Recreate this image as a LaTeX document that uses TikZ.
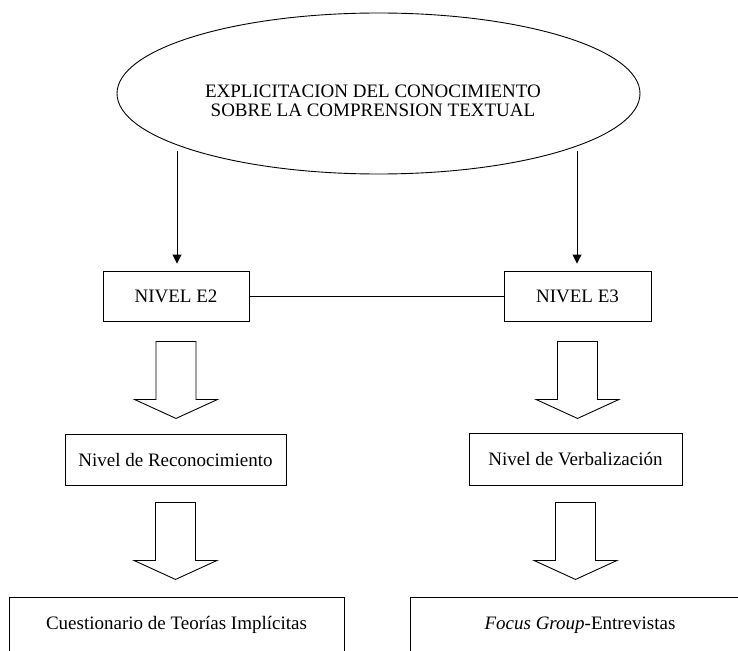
\documentclass[tikz,border=0pt]{standalone}
\usepackage{fontspec}
\setmainfont{Liberation Serif}
\usetikzlibrary{arrows.meta}

\tikzset{
  box/.style={draw, line width=0.9pt, inner sep=0pt, font=\fontsize{19}{17}\selectfont},
  thinarrow/.style={line width=0.9pt, -{Triangle[length=9pt,width=9pt]}, shorten >=7pt},
  bigdown/.pic={\draw[line width=0.9pt] (-20,0) -- (-20,58) -- (-41.5,58) -- (0,77)
     -- (41.5,58) -- (20,58) -- (20,0) -- cycle;}
}

\begin{document}
\begin{tikzpicture}[x=1pt,y=-1pt]
\useasboundingbox (0,0) rectangle (738,650);
\clip (0,0) rectangle (738,650);

% top ellipse
\coordinate (expl) at (378.5,93.5);
\draw[line width=0.9pt] (expl) ellipse (261.5 and 80.5);
\node[align=center, font=\fontsize{19}{18.5}\selectfont] (title) at (373,101)
  {EXPLICITACION DEL CONOCIMIENTO\\SOBRE LA COMPRENSION TEXTUAL};

% levels
\node[box, minimum width=146, minimum height=50] (e2) at (176,296) {NIVEL E2};
\node[box, minimum width=147, minimum height=50] (e3) at (577.5,296) {NIVEL E3};
\node[box, minimum width=221, minimum height=51] (rec) at (175.5,459.5) {Nivel de Reconocimiento};
\node[box, minimum width=213, minimum height=52] (ver) at (575.5,459) {Nivel de Verbalización};
\node[box, minimum width=335, minimum height=56] (cue) at (176.5,625) {Cuestionario de Teorías Implícitas};
\node[box, minimum width=340, minimum height=56] (foc) at (580,625) {\textit{Focus Group}-Entrevistas};

% arrows
\coordinate (s1) at (177,151);
\coordinate (s2) at (577,151);
\draw[thinarrow] (s1) -- (s1 |- e2.north);
\draw[thinarrow] (s2) -- (s2 |- e3.north);
\draw[line width=0.9pt] (e2) -- (e3);

\foreach \n/\g in {e2/20,e3/20,rec/17,ver/17}
  \pic at ([yshift=-\g pt]\n.south) {bigdown};
\end{tikzpicture}
\end{document}
